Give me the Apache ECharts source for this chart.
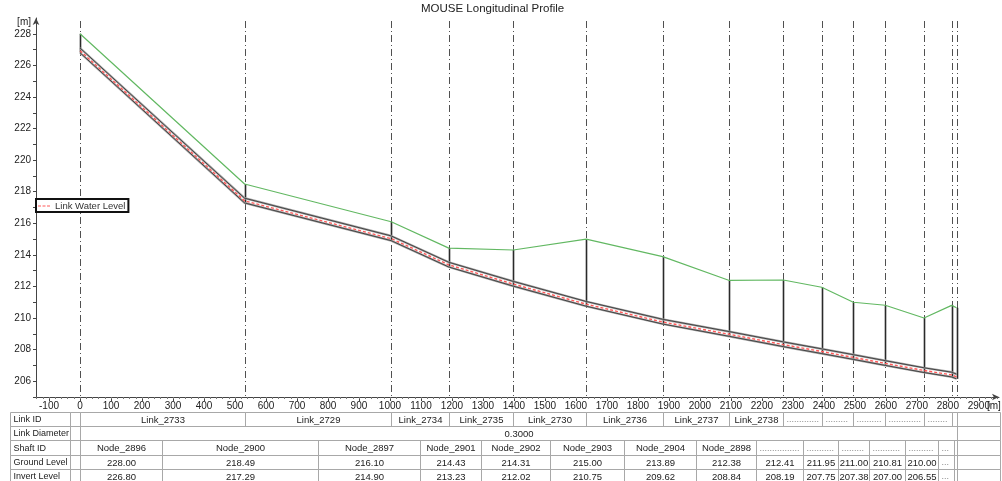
<!DOCTYPE html>
<html><head><meta charset="utf-8">
<script src="https://cdn.jsdelivr.net/npm/echarts@6/dist/echarts.min.js"></script>
<style>html,body{margin:0;padding:0;background:#fff}#c{width:1002px;height:481px}</style>
</head><body><div id="c"></div>
<script>
// ---- data ----
const nodeChainage = [0, 531, 1004, 1190, 1398, 1633, 1880, 2095, 2269, 2393, 2495, 2598, 2723, 2812, 2828];
const shaftIds = ['Node_2896','Node_2900','Node_2897','Node_2901','Node_2902','Node_2903','Node_2904','Node_2898', null, null, null, null, null, null, null];
const groundLevel = [228.00, 218.49, 216.10, 214.43, 214.31, 215.00, 213.89, 212.38, 212.41, 211.95, 211.00, 210.81, 210.00, 210.80, 210.65];
const invertLevel = [226.80, 217.29, 214.90, 213.23, 212.02, 210.75, 209.62, 208.84, 208.19, 207.75, 207.38, 207.00, 206.55, 206.27, 206.15];
const crownLevel  = [227.10, 217.59, 215.20, 213.53, 212.32, 211.05, 209.92, 209.14, 208.49, 208.05, 207.68, 207.30, 206.85, 206.57, 206.45];
const waterLevel  = [226.93, 217.42, 215.03, 213.37, 212.15, 210.88, 209.75, 208.97, 208.32, 207.88, 207.51, 207.13, 206.68, 206.40, 206.28];
const linkIds = ['Link_2733','Link_2729','Link_2734','Link_2735','Link_2730','Link_2736','Link_2737','Link_2738', null, null, null, null, null, null];
const linkDiameter = '0.3000';
const tableRows = ['Link ID','Link Diameter','Shaft ID','Ground Level','Invert Level'];
const labelledLevels = 13;
const xTicks = [-100,0,100,200,300,400,500,600,700,800,900,1000,1100,1200,1300,1400,1500,1600,1700,1800,1900,2000,2100,2200,2300,2400,2500,2600,2700,2800,2900];
const yTicks = [206,208,210,212,214,216,218,220,222,224,226,228];

// ---- layout helpers ----
const FONT = 'Liberation Sans, Arial, sans-serif';
const X_MIN = -142, X_MAX = 2965, Y_MIN = 205, Y_MAX = 229;
const T_MIN = -226, T_MAX = 2968, LABEL_END = -33;
const minorX = []; for (let v = -140; v <= 2960; v += 20) minorX.push(v);
const minorY = []; for (let v = 205; v <= 228; v += 1) minorY.push(v);
const yLabelVals = yTicks.concat([228.7]);

const pts = arr => nodeChainage.map((x, i) => [x, arr[i]]);
const n = nodeChainage.length;
const lastX = nodeChainage[n - 1];
const DOTS = '..................';

// table cells
const cells = [];
tableRows.forEach((name, r) => {
  cells.push({row: r, x0: T_MIN, x1: LABEL_END, text: name, align: 'left', label: true});
  cells.push({row: r, x0: LABEL_END, x1: 0, text: ''});
  cells.push({row: r, x0: lastX, x1: T_MAX, text: ''});
});
for (let i = 0; i < n - 1; i++) {
  const id = linkIds[i];
  cells.push({row: 0, x0: nodeChainage[i], x1: nodeChainage[i + 1], text: id || DOTS, align: id ? 'center' : 'left', dots: !id});
}
cells.push({row: 1, x0: 0, x1: lastX, text: linkDiameter, align: 'center'});
for (let i = 0; i < n; i++) {
  const x0 = i === 0 ? nodeChainage[0] : (nodeChainage[i - 1] + nodeChainage[i]) / 2;
  const x1 = i === n - 1 ? nodeChainage[i] : (nodeChainage[i] + nodeChainage[i + 1]) / 2;
  const sid = shaftIds[i];
  cells.push({row: 2, x0, x1, text: sid || DOTS, align: sid ? 'center' : 'left', dots: !sid});
  const lab = i < labelledLevels;
  cells.push({row: 3, x0, x1, text: lab ? groundLevel[i].toFixed(2) : DOTS, align: lab ? 'center' : 'left', dots: !lab});
  cells.push({row: 4, x0, x1, text: lab ? invertLevel[i].toFixed(2) : DOTS, align: lab ? 'center' : 'left', dots: !lab});
}

function crisp(v) { return Math.round(v) + 0.5; }

function renderCell(params, api) {
  const c = cells[params.dataIndex];
  const p0 = api.coord([c.x0, c.row]);
  const p1 = api.coord([c.x1, c.row + 1]);
  const x = crisp(p0[0]), y = crisp(p0[1]);
  const w = crisp(p1[0]) - x, h = crisp(p1[1]) - y;
  const children = [{type: 'rect', shape: {x, y, width: w, height: h},
    style: {fill: 'none', stroke: '#a8a8a8', lineWidth: 1}}];
  if (c.text && w > 4) {
    const left = c.align === 'left';
    const st = {
      text: c.text, x: left ? x + 3 : x + w / 2, y: y + h / 2 + 0.5,
      align: left ? 'left' : 'center', verticalAlign: 'middle',
      fill: c.dots ? '#8a8a8a' : '#222',
      font: (c.label ? '9px ' : (c.dots ? '9px ' : '9.5px ')) + FONT
    };
    if (c.dots) { st.width = Math.max(w - 5, 1); st.overflow = 'truncate'; st.ellipsis = ''; }
    children.push({type: 'text', style: st});
  }
  return {type: 'group', children};
}

function renderNodeLine(params, api) {
  const x = nodeChainage[params.dataIndex];
  const a = api.coord([x, Y_MAX]);
  const b = api.coord([x, Y_MIN]);
  return {type: 'line', shape: {x1: crisp(a[0]), y1: a[1] + 3, x2: crisp(a[0]), y2: b[1]},
    style: {stroke: '#505050', lineWidth: 1, lineDash: [7, 3, 1, 3]}};
}
function renderShaft(params, api) {
  const i = params.dataIndex;
  const a = api.coord([nodeChainage[i], invertLevel[i]]);
  const b = api.coord([nodeChainage[i], groundLevel[i]]);
  return {type: 'line', shape: {x1: crisp(a[0]), y1: a[1], x2: crisp(b[0]), y2: b[1]},
    style: {stroke: '#2a2a2a', lineWidth: 1.6}};
}

const chart = echarts.init(document.getElementById('c'), null, {renderer: 'canvas'});
const axisColor = '#444';
chart.setOption({
  animation: false,
  backgroundColor: '#fff',
  textStyle: {fontFamily: FONT},
  title: {text: 'MOUSE Longitudinal Profile', left: 421, top: 3, padding: 0,
    textStyle: {fontSize: 11.5, fontWeight: 'normal', color: '#222', fontFamily: FONT}},
  legend: {left: 36, top: 199, borderColor: '#111', borderWidth: 2,
    data: [{name: 'Link Water Level', icon: 'path://M0,0h3v1h-3zM4.5,0h3v1h-3zM9,0h3v1h-3z'}],
    padding: [2, 3, 1, 2], itemWidth: 12, itemHeight: 1.6, itemGap: 0, backgroundColor: '#fff',
    textStyle: {fontSize: 9.5, color: '#333', fontFamily: FONT, padding: [0, 0, 0, 0]}},
  grid: [
    {left: 36, right: 3, top: 18, height: 379, containLabel: false, outerBoundsMode: 'none'},
    {left: 10, right: 2, top: 412, height: 71, containLabel: false, outerBoundsMode: 'none'}
  ],
  xAxis: [
    {type: 'value', gridIndex: 0, min: X_MIN, max: X_MAX, splitLine: {show: false},
      name: '[m]', nameLocation: 'end', nameGap: -12, nameMoveOverlap: false,
      nameTextStyle: {align: 'left', verticalAlign: 'top', padding: [4, 0, 0, 0], fontSize: 10, color: '#222', fontFamily: FONT},
      axisLine: {onZero: false, symbol: ['none', 'arrow'], symbolSize: [5, 7], lineStyle: {color: axisColor}},
      axisTick: {customValues: xTicks, length: 4, lineStyle: {color: axisColor}},
      axisLabel: {customValues: xTicks, margin: 4, fontSize: 10, color: '#222', fontFamily: FONT,
        formatter: v => String(v)}},
    {type: 'value', gridIndex: 0, position: 'bottom', min: X_MIN, max: X_MAX, splitLine: {show: false},
      axisLine: {show: false, onZero: false}, axisLabel: {show: false},
      axisTick: {customValues: minorX, length: 2, lineStyle: {color: '#777'}}},
    {type: 'value', gridIndex: 1, min: T_MIN, max: T_MAX, show: false}
  ],
  yAxis: [
    {type: 'value', gridIndex: 0, min: Y_MIN, max: Y_MAX, splitLine: {show: false},
      axisLine: {show: true, onZero: false, symbol: ['none', 'arrow'], symbolSize: [5, 7], lineStyle: {color: axisColor}},
      axisTick: {show: true, customValues: minorY, length: 3, lineStyle: {color: axisColor}},
      axisLabel: {customValues: yLabelVals, margin: 5, fontSize: 10, color: '#222', fontFamily: FONT,
        formatter: v => Math.abs(v - 228.7) < 1e-6 ? '[m]' : String(v)}},
    {type: 'value', gridIndex: 1, min: 0, max: 5, inverse: true, show: false}
  ],
  series: [
    {type: 'custom', name: 'nodes', xAxisIndex: 0, yAxisIndex: 0, z: 1,
      data: nodeChainage.map(x => [x, Y_MIN]), renderItem: renderNodeLine, silent: true},
    {type: 'custom', name: 'shafts', xAxisIndex: 0, yAxisIndex: 0, z: 2,
      data: nodeChainage.map((x, i) => [x, groundLevel[i]]), renderItem: renderShaft, silent: true},
    {type: 'line', name: 'crownShade', data: pts(crownLevel), symbol: 'none', z: 3,
      lineStyle: {color: '#a6a6a6', width: 2.2}},
    {type: 'line', name: 'invertShade', data: pts(invertLevel), symbol: 'none', z: 3,
      lineStyle: {color: '#a6a6a6', width: 2.2}},
    {type: 'line', name: 'crown', data: pts(crownLevel), symbol: 'none', z: 4,
      lineStyle: {color: '#2a2a2a', width: 0.8}},
    {type: 'line', name: 'invert', data: pts(invertLevel), symbol: 'none', z: 4,
      lineStyle: {color: '#2a2a2a', width: 0.8}},
    {type: 'line', name: 'Link Water Level', data: pts(waterLevel), symbol: 'none', z: 5,
      itemStyle: {color: '#ff5a5a'}, lineStyle: {color: '#ff5a5a', width: 1.4, type: [3, 2]}},
    {type: 'line', name: 'Ground Level', data: pts(groundLevel), symbol: 'none', z: 5,
      lineStyle: {color: '#62b862', width: 1.2}},
    {type: 'custom', name: 'table', xAxisIndex: 2, yAxisIndex: 1, z: 1, silent: true,
      data: cells.map(c => [c.x0, c.row]), renderItem: renderCell}
  ]
});
</script></body></html>
